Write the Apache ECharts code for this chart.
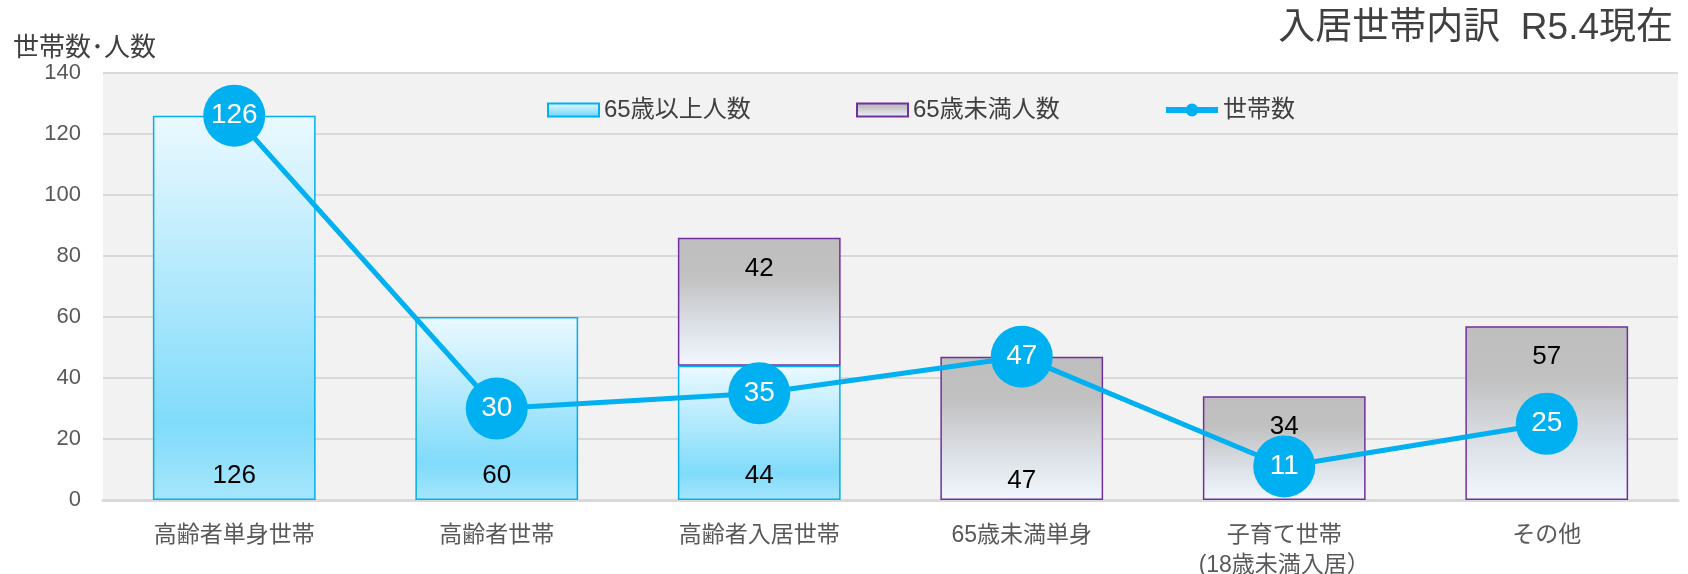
<!DOCTYPE html>
<html><head><meta charset="utf-8">
<script src="https://cdn.jsdelivr.net/npm/echarts@6/dist/echarts.min.js"></script>
<style>html,body{margin:0;padding:0;background:#fff}#c{width:1688px;height:574px}</style>
</head><body><div id="c"></div>
<script>
const categories = ['高齢者単身世帯','高齢者世帯','高齢者入居世帯','65歳未満単身','子育て世帯\n(18歳未満入居）','その他'];
const over65 = [126, 60, 44, null, null, null];
const under65 = [null, null, 42, 47, 34, 57];
const households = [126, 30, 35, 47, 11, 25];
const under65LabelPos = ['insideTop','insideTop','insideTop','insideBottom','insideTop','insideTop'];

const FONT = '"Liberation Sans", Arial, "Noto Sans CJK JP", sans-serif';
const chart = echarts.init(document.getElementById('c'));
const blueGrad = new echarts.graphic.LinearGradient(0,0,0,1,[
  {offset:0,color:'#ebf9ff'},{offset:0.8,color:'#80dbfb'},{offset:1,color:'#a6e6fc'}]);
const greyGrad = new echarts.graphic.LinearGradient(0,0,0,1,[
  {offset:0,color:'#bebebe'},{offset:0.3,color:'#c1c1c1'},{offset:0.7,color:'#dde1e8'},{offset:1,color:'#f2f8ff'}]);
const legendText = {fontFamily:FONT, fontSize:24, color:'#404040'};

chart.setOption({
  animation:false,
  textStyle:{fontFamily:FONT},
  title:{text:'入居世帯内訳  R5.4現在', right:10, top:5,
    textStyle:{fontFamily:FONT, fontSize:37, fontWeight:'normal', color:'#404040'}},
  grid:{left:103, right:10, top:73, bottom:74, show:true, backgroundColor:'#f2f2f2', borderWidth:0,
    containLabel:false, outerBoundsMode:'none'},
  legend:[
    {top:98, left:547, padding:0, itemWidth:51, itemHeight:13, icon:'rect', textStyle:legendText, data:['65歳以上人数']},
    {top:98, left:856, padding:0, itemWidth:51, itemHeight:13, icon:'rect', textStyle:legendText, data:['65歳未満人数']},
    {top:98, left:1163, padding:0, itemWidth:52, itemHeight:16, textStyle:legendText, lineStyle:{width:6}, data:['世帯数']}
  ],
  xAxis:{type:'category', data:categories,
    axisLine:{lineStyle:{color:'#d9d9d9', width:3}}, axisTick:{show:false},
    axisLabel:{fontFamily:FONT, fontSize:23, color:'#595959', margin:21, lineHeight:30}},
  yAxis:{type:'value', min:0, max:140, interval:20,
    name:'世帯数･人数', nameLocation:'end', nameGap:23,
    nameTextStyle:{fontFamily:FONT, fontSize:26, color:'#404040', align:'left', verticalAlign:'middle', padding:[0,0,0,-90]},
    axisLabel:{fontFamily:FONT, fontSize:22, color:'#595959', margin:22},
    splitLine:{lineStyle:{color:'#d9d9d9', width:2}}, axisLine:{show:false}, axisTick:{show:false}},
  series:[
    {name:'65歳以上人数', type:'bar', stack:'p', barWidth:'62%', data:over65,
     itemStyle:{color:blueGrad, borderColor:'#00b0f0', borderWidth:1.5},
     label:{show:true, position:'insideBottom', distance:11, fontFamily:FONT, fontSize:26, color:'#000'}},
    {name:'65歳未満人数', type:'bar', stack:'p', barWidth:'62%',
     data:under65.map((v,i)=>({value:v, label:{position:under65LabelPos[i], distance:i===3?6:18}})),
     itemStyle:{color:greyGrad, borderColor:'#7030a0', borderWidth:1.5},
     label:{show:true, fontFamily:FONT, fontSize:26, color:'#000'}},
    {name:'世帯数', type:'line', data:households, symbol:'circle', symbolSize:62,
     lineStyle:{color:'#00b0f0', width:5}, itemStyle:{color:'#00b0f0'},
     label:{show:true, position:'inside', fontFamily:FONT, fontSize:28, color:'#fff'}, z:5}
  ]
});
</script></body></html>
